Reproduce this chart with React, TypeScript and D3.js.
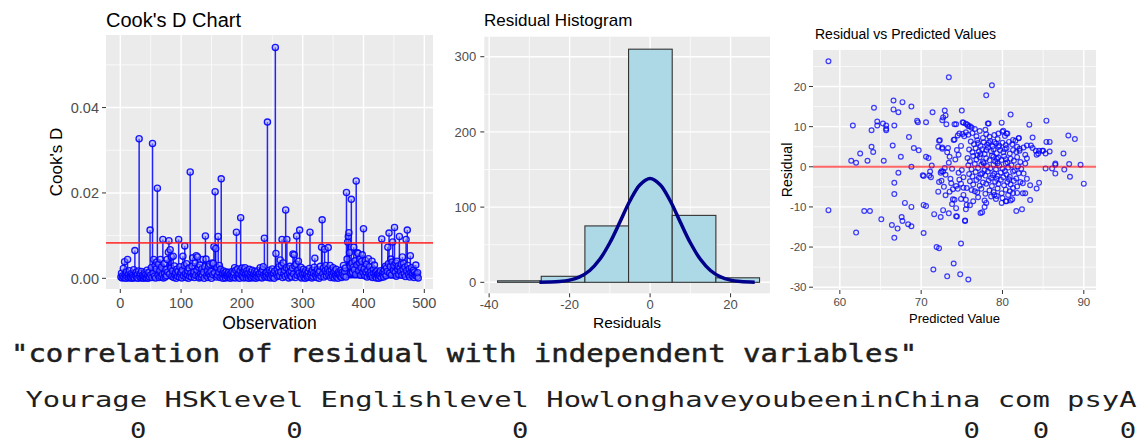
import React from 'react'
import * as d3 from 'd3'

// Cook's distance per observation, in units of 1e-4
const cooksD = [
  3, 12, 1, 6, 23, 2, 39, 8, 0, 15, 4, 44, 9, 1, 18, 5, 2, 11, 0, 7,
  3, 20, 1, 65, 6, 14, 2, 9, 0, 17, 327, 4, 11, 1, 16, 3, 8, 0, 5, 13,
  2, 9, 1, 19, 6, 0, 14, 3, 113, 8, 25, 2, 316, 12, 44, 5, 30, 1, 22, 38,
  211, 7, 33, 2, 18, 44, 4, 26, 9, 91, 1, 35, 12, 3, 20, 6, 44, 15, 61, 88,
  10, 67, 24, 50, 4, 18, 52, 2, 29, 7, 13, 0, 21, 5, 16, 91, 3, 27, 9, 14,
  1, 19, 52, 6, 30, 76, 11, 2, 34, 8, 17, 0, 24, 5, 249, 12, 3, 28, 48, 9,
  15, 2, 36, 7, 53, 19, 50, 4, 26, 1, 31, 10, 3, 22, 8, 44, 14, 0, 27, 99,
  45, 6, 18, 2, 28, 11, 33, 4, 16, 0, 36, 9, 35, 74, 13, 203, 70, 3, 25, 7,
  98, 14, 30, 2, 21, 233, 5, 12, 0, 17, 8, 13, 1, 15, 6, 10, 2, 14, 4, 9,
  0, 11, 5, 16, 2, 8, 13, 25, 1, 19, 108, 6, 22, 3, 10, 0, 18, 142, 7, 24,
  4, 15, 1, 20, 25, 9, 2, 17, 6, 12, 0, 21, 8, 3, 14, 1, 19, 5, 10, 2,
  16, 7, 0, 13, 4, 18, 9, 2, 11, 25, 5, 15, 1, 20, 27, 8, 94, 3, 12, 6,
  14, 366, 2, 10, 19, 5, 1, 16, 7, 22, 3, 12, 0, 17, 541, 58, 9, 21, 4, 13,
  27, 6, 43, 15, 30, 91, 2, 36, 11, 19, 4, 160, 25, 91, 8, 22, 1, 14, 28, 5,
  17, 3, 24, 57, 10, 55, 29, 2, 33, 99, 7, 19, 40, 12, 113, 4, 26, 1, 15, 9,
  21, 3, 13, 0, 18, 6, 11, 2, 16, 5, 23, 108, 8, 14, 1, 19, 4, 12, 26, 47,
  7, 15, 2, 20, 9, 13, 0, 17, 28, 5, 73, 137, 11, 24, 3, 68, 18, 30, 6, 14,
  22, 72, 8, 16, 30, 2, 19, 10, 4, 25, 13, 1, 17, 6, 21, 3, 11, 0, 15, 8,
  12, 4, 19, 2, 14, 9, 30, 5, 16, 24, 3, 201, 45, 85, 98, 107, 60, 28, 12, 185,
  35, 14, 26, 73, 20, 41, 9, 228, 31, 60, 58, 18, 37, 45, 7, 25, 40, 55, 14, 116,
  22, 6, 42, 15, 33, 3, 19, 46, 10, 27, 4, 16, 8, 40, 2, 21, 12, 31, 5, 14,
  1, 17, 7, 11, 0, 13, 5, 18, 2, 92, 9, 15, 3, 20, 11, 28, 6, 25, 16, 73,
  34, 106, 12, 27, 45, 8, 38, 85, 19, 30, 119, 14, 36, 5, 40, 22, 29, 9, 98, 24,
  16, 33, 7, 50, 21, 35, 11, 26, 4, 91, 18, 113, 30, 9, 22, 3, 53, 14, 25, 6,
  12, 19, 2, 15, 7, 31, 10, 4, 13, 1,
]
const cooksCutoff = 0.0083
const cooksXTicks = [0, 100, 200, 300, 400, 500]
const cooksYTicks = [0, 0.02, 0.04]

const histEdges = [-37.9, -27.05, -16.2, -5.35, 5.5, 16.35, 27.2]
const histCounts = [2, 8, 75, 310, 89, 6]
const histXTicks = [-40, -20, 0, 20]
const histYTicks = [0, 100, 200, 300]
const densityX = [-27.5, -25, -22.5, -20, -17.5, -15, -12.5, -10, -7.5, -5, -2.5, 0, 2.5, 5, 7.5, 10, 12.5, 15, 17.5, 20, 22.5, 26]
const densityY = [0.1, 0.3, 1.0, 2.9, 7.2, 15.7, 30.6, 52.6, 80.2, 108.5, 129.9, 138, 129.9, 108.5, 80.2, 52.6, 30.6, 15.7, 7.2, 2.9, 1.0, 0.2]

// [predicted, residual]
const residVsPred = [
  [58.6, 26.3], [58.6, -10.8], [61.6, 10.3], [61.4, 1.5], [62.0, 1.0], [62.0, -16.4], [62.5, 3.3], [63.0, -11.0],
  [63.4, 1.5], [63.7, -11.0], [63.9, 9.1], [63.9, 5.0], [64.1, 3.7], [64.2, 14.7], [64.6, 11.3], [64.6, 10.3],
  [65.1, -13.1], [65.3, 10.8], [65.4, 1.5], [65.7, 10.3], [65.7, 9.1], [65.7, 9.5], [66.4, -14.5], [66.5, 5.3],
  [66.6, 16.5], [66.6, 14.3], [66.7, 10.3], [66.7, -4.0], [66.7, -6.8], [66.7, -17.7], [67.1, -15.4], [67.2, 13.6],
  [67.2, -1.5], [67.5, 2.5], [67.6, -12.5], [67.7, 16.1], [67.7, -13.5], [68.0, -9.0], [68.5, 7.4], [68.4, -14.3],
  [68.8, 15.0], [68.8, 0], [68.8, -10.0], [68.8, -14.8], [69.1, 4.7], [69.5, 11.5], [69.6, 11.1], [69.7, 4.1],
  [70.2, -2.1], [70.3, -16.5], [70.3, -2.3], [70.3, -9.5], [70.6, -9.8], [70.6, 11.1], [70.6, 2.5], [70.9, 2.2],
  [71.1, -1.2], [71.0, -2.2], [71.4, 13.6], [71.3, 0.3], [71.5, -25.6], [71.6, -11.8], [71.9, -20.0], [72.2, -20.3],
  [72.1, -6.2], [72.1, 5.0], [72.2, 6.5], [72.4, -12.5], [72.5, -3.5], [72.4, -1.5], [72.6, 4.5], [72.7, -10.8],
  [72.6, 11.6], [72.7, 12.3], [72.9, 14.0], [73.0, 12.8], [73.0, -7.1], [73.1, 10.6], [73.2, -27.3], [73.4, 22.3],
  [73.4, -11.6], [73.5, 2.5], [73.5, -6.2], [73.8, -9.3], [73.9, -8.1], [74.0, -24.1], [74.1, 10.6], [74.1, 6.8],
  [74.3, -12.3], [74.8, -26.8], [74.9, -19.1], [75.0, 14.0], [75.2, 11.0], [75.4, -13.5], [75.7, 10.5], [75.8, -28.1],
  [76.0, 10.1], [76.0, -9.6], [76.2, 9.8],
  [72.3, 6.6], [72.6, 4.8], [73.3, 4.7], [73.2, 3.6], [73.4, 1.0], [74.0, 6.7], [72.9, -0.3], [72.7, -1.2],
  [73.0, -2.0], [73.6, -3.0], [73.8, -0.5], [74.2, 1.8], [74.4, 4.2], [74.6, 3.0], [74.5, 7.8], [74.7, 8.3],
  [74.9, 5.2], [75.1, 8.2], [75.3, 7.6], [75.5, 8.6], [75.8, 8.0], [74.3, -4.8], [74.5, -5.5], [74.7, -3.2],
  [74.6, -1.5], [74.9, -4.2], [75.2, -2.6], [75.0, -0.8], [73.9, -5.6], [73.7, -4.1], [72.8, -5.0], [72.2, -3.8],
  [72.5, -1.1], [71.2, -2.6], [74.9, -8.0], [75.2, -7.0], [75.5, -8.2], [75.6, -9.5], [75.5, -10.6], [74.3, -10.3],
  [74.4, -12.4], [74.1, -8.2], [76.4, -8.6], [76.6, -6.1], [75.6, -5.3], [75.2, -5.2],
  [78.7, 20.3], [78.0, 17.8], [81.0, 13.0], [85.4, 11.5], [83.3, 10.5], [88.1, 7.8], [88.9, 6.9], [78.2, 10.8],
  [79.9, 11.0], [75.1, 11.1], [75.5, 10.7], [75.8, 10.1], [74.3, 10.6], [83.7, 7.3], [82.0, 7.2], [81.3, 6.7],
  [80.1, 9.0], [80.6, 8.3], [79.5, 8.3], [85.4, 6.2], [87.5, 3.3], [89.6, 0.5], [88.2, 0.7], [86.5, 0.5],
  [87.6, -0.7], [84.9, 4.0], [84.4, 3.3], [84.1, 4.0], [83.0, 5.3], [83.5, 5.3], [82.6, 4.8], [82.1, 4.0], [82.8, 3.0],
  [86.5, 0.8], [85.8, 3.8], [85.3, 3.3], [85.0, 4.0], [84.5, 4.0], [84.2, 3.0], [83.7, 4.7], [85.8, 6.2],
  [88.3, -2.5], [90.0, -4.2], [86.5, -1.7], [86.1, -0.4], [85.3, -0.4], [84.5, -4.0], [84.2, -5.4], [83.4, -8.3],
  [82.8, -6.6], [81.8, -6.5], [81.7, -11.0], [82.4, -10.6], [82.6, -1.7], [82.8, 0.8], [83.0, 2.1], [81.8, 5.0],
  [82.0, 7.1], [80.5, 8.3], [80.0, 8.7], [78.3, 10.8], [83.4, -4.6], [83.0, -3.0], [82.5, -4.1], [82.5, -6.6],
  [81.3, -6.6], [80.4, -8.6], [79.9, -9.0], [79.0, -7.0], [79.3, -7.3], [77.3, -11.5], [75.4, -13.4],
  [76.3, 8.4], [76.8, 7.6], [77.2, 8.9], [77.6, 7.2], [78.0, 8.1], [78.4, 7.5], [79.0, 7.9], [79.4, 6.9], [80.3, 7.7],
  [76.6, 9.4], [77.9, 9.2],
  [76.1, 6.3], [76.5, 5.6], [76.9, 6.6], [77.3, 5.2], [77.7, 6.1], [78.1, 5.5], [78.5, 6.4], [78.8, 5.1], [79.2, 5.8],
  [79.6, 5.3], [80.0, 6.0], [80.4, 5.4], [80.8, 6.2], [81.2, 5.6], [81.6, 6.5], [77.0, 5.9], [78.3, 6.0], [79.0, 6.2],
  [75.9, 4.3], [76.3, 3.6], [76.7, 4.6], [77.1, 3.8], [77.5, 4.4], [77.8, 3.2], [78.2, 4.8], [78.6, 3.9], [78.9, 4.4],
  [79.3, 3.4], [79.7, 4.1], [80.1, 3.6], [80.5, 4.7], [80.9, 3.3], [81.3, 4.2], [81.7, 3.7], [82.1, 4.5], [77.3, 3.1],
  [78.0, 4.2], [79.5, 4.9], [80.3, 4.4],
  [75.7, 2.2], [76.0, 1.4], [76.4, 2.7], [76.8, 1.8], [77.2, 2.4], [77.6, 1.2], [78.0, 2.1], [78.4, 1.6], [78.7, 2.8],
  [79.1, 1.3], [79.5, 2.3], [79.9, 1.7], [80.2, 2.6], [80.6, 1.1], [81.0, 2.0], [81.4, 1.5], [81.8, 2.4], [82.2, 1.2],
  [76.9, 2.9], [78.9, 2.5], [80.4, 1.9], [79.3, 2.0],
  [75.8, 0.4], [76.2, -0.6], [76.6, 0.7], [77.0, -0.3], [77.4, 0.5], [77.8, -0.8], [78.1, 0.2], [78.5, -0.4], [78.9, 0.6],
  [79.2, -0.7], [79.6, 0.3], [80.0, -0.5], [80.4, 0.8], [80.7, -0.2], [81.1, 0.4], [81.5, -0.9], [81.9, 0.1], [82.3, -0.5],
  [77.7, 0.9], [79.4, 0.9],
  [75.9, -1.8], [76.3, -2.4], [76.7, -1.3], [77.1, -2.7], [77.5, -1.6], [77.9, -2.2], [78.2, -1.2], [78.6, -2.8],
  [79.0, -1.7], [79.4, -2.3], [79.8, -1.4], [80.1, -2.6], [80.5, -1.9], [80.9, -2.5], [81.3, -1.2], [81.7, -2.9],
  [82.0, -1.6], [77.3, -1.9], [78.8, -2.1], [80.3, -1.1],
  [76.0, -3.6], [76.4, -4.4], [76.8, -3.3], [77.2, -4.7], [77.6, -3.9], [78.0, -4.2], [78.3, -3.4], [78.7, -4.8],
  [79.1, -3.7], [79.5, -4.3], [79.8, -3.2], [80.2, -4.6], [80.6, -3.8], [81.0, -4.4], [81.4, -3.5], [81.8, -4.9],
  [82.2, -3.8], [79.3, -3.0], [80.8, -3.1],
  [76.2, -5.8], [76.9, -6.4], [77.4, -5.5], [77.9, -6.7], [78.4, -5.9], [78.9, -6.3], [79.4, -5.4], [79.9, -6.6],
  [80.4, -5.7], [80.9, -6.1], [81.3, -5.3], [80.7, -7.0],
  [77.0, -7.6], [77.8, -8.4], [78.6, -7.4], [79.2, -8.0], [80.0, -7.8], [80.5, -8.6], [81.2, -8.1], [81.0, -8.4],
  [78.0, -9.0], [77.5, -11.3], [77.8, -10.0],
]
const scatterXTicks = [60, 70, 80, 90]
const scatterYTicks = [-30, -20, -10, 0, 10, 20]

const corrTitle = '"correlation of residual with independent variables"'
const corrNames = ['Yourage', 'HSKlevel', 'Englishlevel', 'HowlonghaveyoubeeninChina', 'com', 'psyA']
const corrValues = [0, 0, 0, 0, 0, 0]

const FONT = '"Liberation Sans", Arial, sans-serif'
const MONO = '"DejaVu Sans Mono", monospace'

function Grid({ xs, ys, xMajor, xMinor, yMajor, yMinor }) {
  const [x0, x1] = xs.range()
  const [y0, y1] = ys.range()
  return (
    <g>
      <rect x={x0} y={y1} width={x1 - x0} height={y0 - y1} fill="#EBEBEB" />
      {xMinor.map(v => <line key={'xn' + v} x1={xs(v)} x2={xs(v)} y1={y1} y2={y0} stroke="#fff" strokeWidth={0.7} />)}
      {yMinor.map(v => <line key={'yn' + v} x1={x0} x2={x1} y1={ys(v)} y2={ys(v)} stroke="#fff" strokeWidth={0.7} />)}
      {xMajor.map(v => <line key={'xj' + v} x1={xs(v)} x2={xs(v)} y1={y1} y2={y0} stroke="#fff" strokeWidth={1.4} />)}
      {yMajor.map(v => <line key={'yj' + v} x1={x0} x2={x1} y1={ys(v)} y2={ys(v)} stroke="#fff" strokeWidth={1.4} />)}
    </g>
  )
}

function Axes({ xs, ys, xTicks, yTicks, fmtX, fmtY, size, xLabelY, yLabelGap }) {
  const y0 = ys.range()[0]
  const x0 = xs.range()[0]
  return (
    <g fontFamily={FONT} fontSize={size} fill="#4D4D4D">
      {xTicks.map(t => (
        <g key={'x' + t}>
          <line x1={xs(t)} x2={xs(t)} y1={y0} y2={y0 + 4} stroke="#333" />
          <text x={xs(t)} y={xLabelY} textAnchor="middle">{fmtX(t)}</text>
        </g>
      ))}
      {yTicks.map(t => (
        <g key={'y' + t}>
          <line x1={x0 - 4} x2={x0} y1={ys(t)} y2={ys(t)} stroke="#333" />
          <text x={x0 - yLabelGap} y={ys(t)} dy="0.36em" textAnchor="end">{fmtY(t)}</text>
        </g>
      ))}
    </g>
  )
}

function CooksPanel() {
  const xs = d3.scaleLinear().domain([-23.5, 514.3]).range([106, 433])
  const ys = d3.scaleLinear().domain([-0.0025, 0.057]).range([289, 35])
  const vals = cooksD.map(v => v / 10000)
  return (
    <g>
      <Grid xs={xs} ys={ys} xMajor={cooksXTicks} xMinor={[50, 150, 250, 350, 450]}
        yMajor={cooksYTicks} yMinor={[0.01, 0.03, 0.05]} />
      <g stroke="#0000FF" strokeOpacity={0.85}>
        {vals.map((v, i) => (
          <line key={i} x1={xs(i + 1)} x2={xs(i + 1)} y1={ys(0)} y2={ys(v)} strokeWidth={1.5} />
        ))}
      </g>
      <g stroke="#0000FF" strokeOpacity={0.9} fill="#9C9CFF" fillOpacity={0.45} strokeWidth={1.3}>
        {vals.map((v, i) => <circle key={i} cx={xs(i + 1)} cy={ys(v)} r={3.1} />)}
      </g>
      <line x1={106} x2={433} y1={ys(cooksCutoff)} y2={ys(cooksCutoff)} stroke="#FF2020" strokeOpacity={0.85} strokeWidth={1.6} />
      <Axes xs={xs} ys={ys} xTicks={cooksXTicks} yTicks={cooksYTicks} fmtX={String} fmtY={d3.format('.2f')}
        size={14.5} xLabelY={308} yLabelGap={7} />
      <text x={106} y={27} fontFamily={FONT} fontSize={20} fill="#000">Cook's D Chart</text>
      <text x={269.5} y={329} fontFamily={FONT} fontSize={17.5} textAnchor="middle" fill="#000">Observation</text>
      <text transform="translate(62,162) rotate(-90)" fontFamily={FONT} fontSize={17} textAnchor="middle" fill="#000">Cook's D</text>
    </g>
  )
}

function HistPanel() {
  const xs = d3.scaleLinear().domain([-41.2, 29.8]).range([484.3, 770])
  const ys = d3.scaleLinear().domain([-14.6, 326.6]).range([293.3, 36.7])
  const line = d3.line().x((d, i) => xs(densityX[i])).y(d => ys(d)).curve(d3.curveCatmullRom)
  return (
    <g>
      <Grid xs={xs} ys={ys} xMajor={histXTicks} xMinor={[-30, -10, 10]} yMajor={histYTicks} yMinor={[50, 150, 250]} />
      {histCounts.map((c, i) => (
        <rect key={i} x={xs(histEdges[i])} y={ys(c)} width={xs(histEdges[i + 1]) - xs(histEdges[i])}
          height={ys(0) - ys(c)} fill="#ADD8E6" stroke="#333" strokeWidth={1.1} />
      ))}
      <path d={line(densityY)} fill="none" stroke="#00008B" strokeWidth={3.5} strokeLinejoin="round" />
      <Axes xs={xs} ys={ys} xTicks={histXTicks} yTicks={histYTicks} fmtX={String} fmtY={String}
        size={13} xLabelY={309} yLabelGap={8} />
      <text x={484} y={26} fontFamily={FONT} fontSize={17} fill="#000">Residual Histogram</text>
      <text x={627} y={328} fontFamily={FONT} fontSize={15.5} textAnchor="middle" fill="#000">Residuals</text>
    </g>
  )
}

function ScatterPanel() {
  const xs = d3.scaleLinear().domain([56.7, 91.5]).range([813, 1096])
  const ys = d3.scaleLinear().domain([-30.7, 29.1]).range([290, 50])
  return (
    <g>
      <Grid xs={xs} ys={ys} xMajor={scatterXTicks} xMinor={[65, 75, 85]}
        yMajor={scatterYTicks} yMinor={[-25, -15, -5, 5, 15, 25]} />
      <g fill="none" stroke="#0000FF" strokeOpacity={0.75} strokeWidth={1.2}>
        {residVsPred.map((d, i) => <circle key={i} cx={xs(d[0])} cy={ys(d[1])} r={2.4} />)}
      </g>
      <line x1={813} x2={1096} y1={ys(0)} y2={ys(0)} stroke="#FF0000" strokeOpacity={0.6} strokeWidth={2} />
      <Axes xs={xs} ys={ys} xTicks={scatterXTicks} yTicks={scatterYTicks} fmtX={String} fmtY={String}
        size={11.5} xLabelY={306} yLabelGap={6.5} />
      <text x={815} y={39} fontFamily={FONT} fontSize={14} fill="#000">Residual vs Predicted Values</text>
      <text x={954.5} y={323} fontFamily={FONT} fontSize={13} textAnchor="middle" fill="#000">Predicted Value</text>
      <text transform="translate(791.5,170) rotate(-90)" fontFamily={FONT} fontSize={14} textAnchor="middle" fill="#000">Residual</text>
    </g>
  )
}

function CorrOutput() {
  const pitch = 17.36
  const start = 25.5
  const header = corrNames.join(' ')
  let col = 0
  const zeroX = corrNames.map(n => {
    col += n.length
    const x = start + col * pitch - pitch / 2
    col += 1
    return x
  })
  return (
    <g fontFamily={MONO} fill="#1E1E1E">
      <text x={11} y={361.5} fontSize={25} stroke="#1E1E1E" strokeWidth={0.5}
        textLength={53 * 17.1} lengthAdjust="spacingAndGlyphs">{corrTitle}</text>
      <text x={start} y={406.5} fontSize={21} textLength={header.length * pitch} lengthAdjust="spacingAndGlyphs">{header}</text>
      {corrValues.map((v, i) => (
        <text key={i} x={zeroX[i]} y={438.5} fontSize={21} textAnchor="middle"
          transform={`translate(${zeroX[i]},0) scale(1.3,1) translate(${-zeroX[i]},0)`}>{v}</text>
      ))}
    </g>
  )
}

export default function App() {
  return (
    <svg width={1143} height={443} style={{ position: 'absolute', left: 0, top: 0, background: '#fff' }}>
      <rect width={1143} height={443} fill="#fff" />
      <CooksPanel />
      <HistPanel />
      <ScatterPanel />
      <CorrOutput />
    </svg>
  )
}
